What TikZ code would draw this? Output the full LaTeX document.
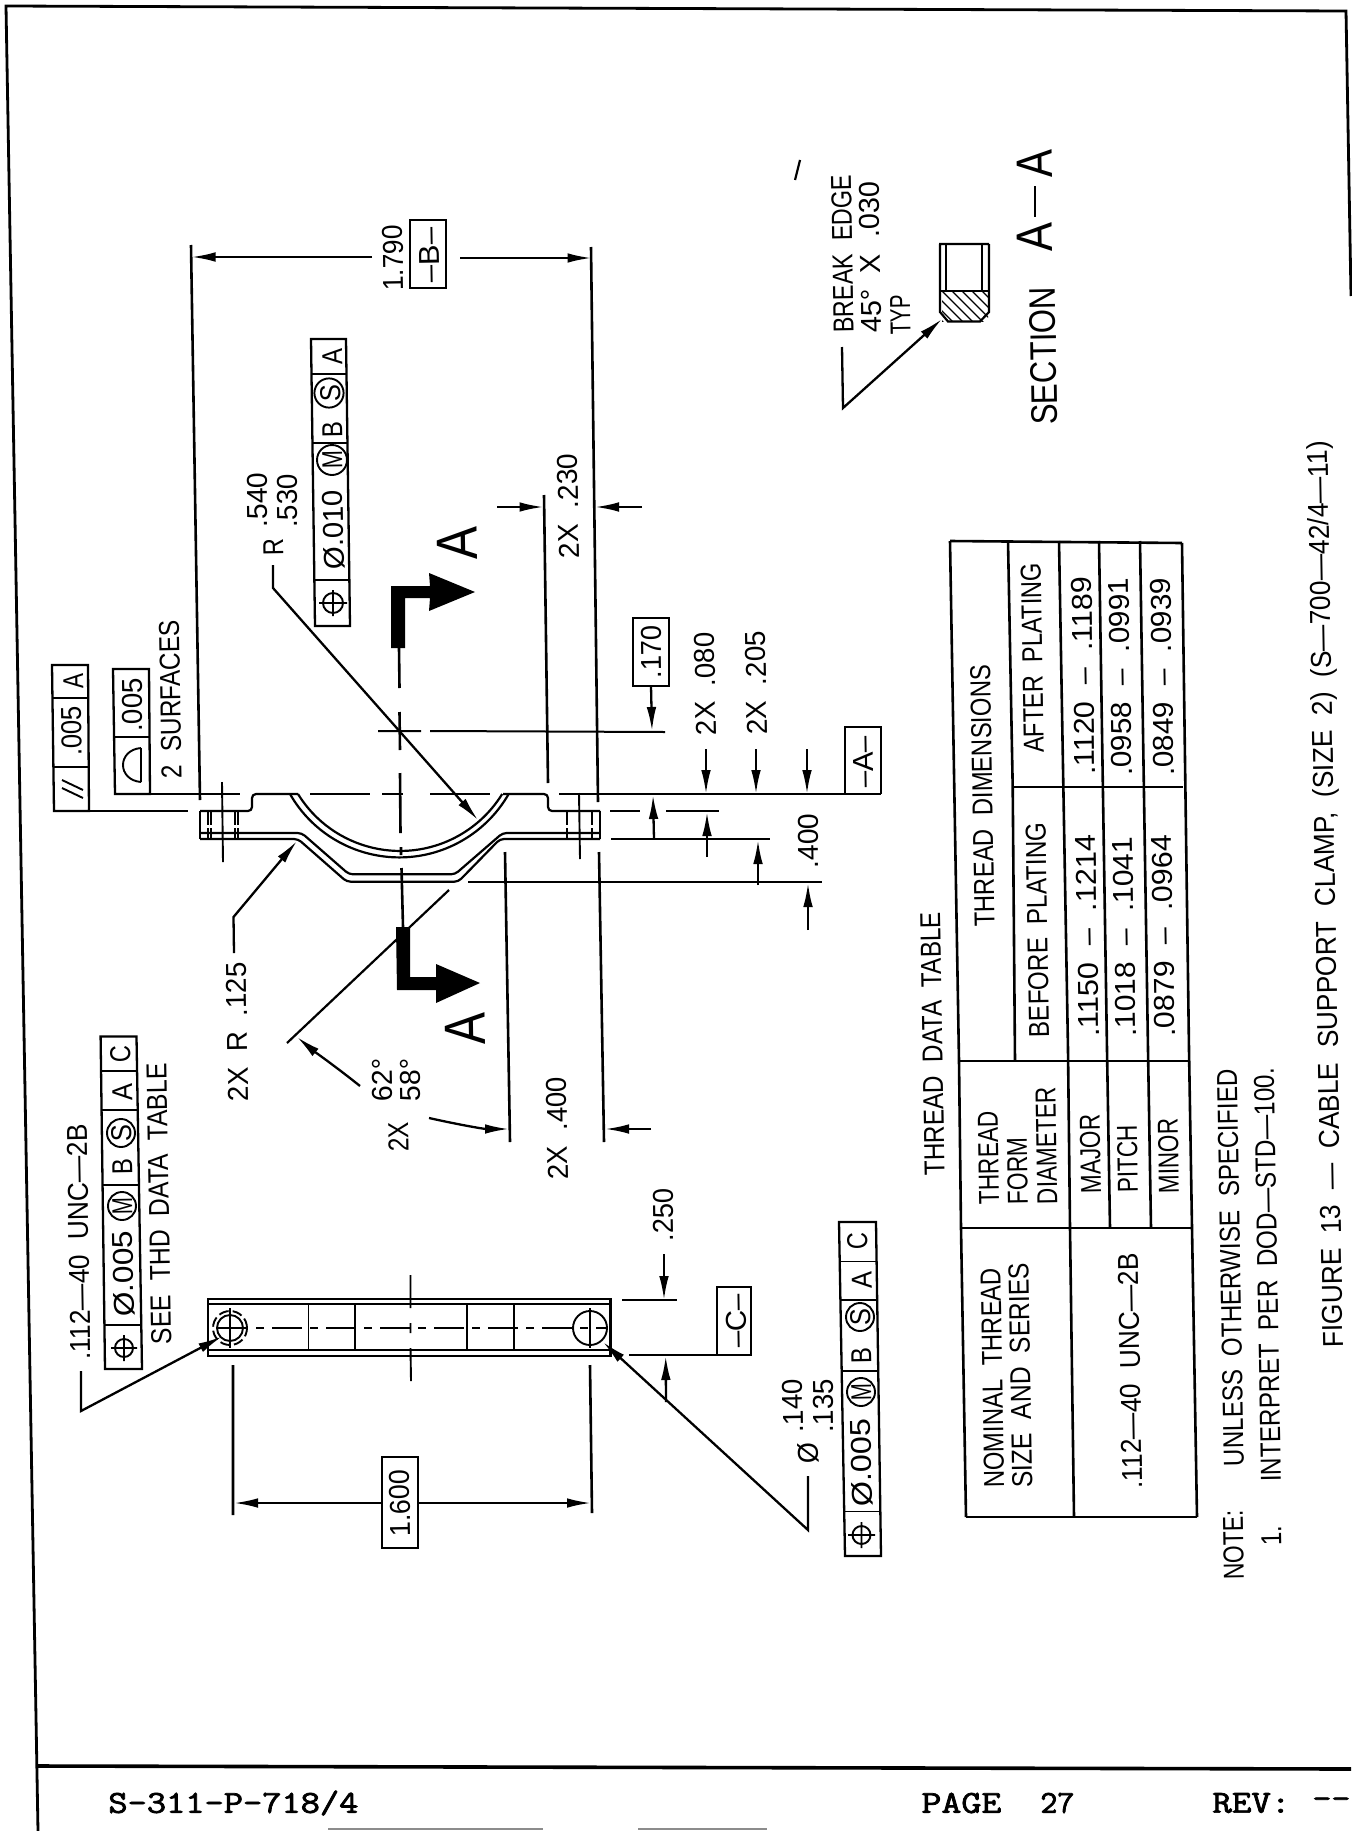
\documentclass[tikz,border=0pt]{standalone}
\usepackage{graphicx}
\usepackage{fontspec}
\usetikzlibrary{arrows.meta}
\setmainfont[WordSpace=2]{Liberation Sans}
\newfontfamily\footf[FakeBold=2.2]{Latin Modern Mono}
\newcounter{tc}
% text running bottom to top: size(pt), x, y, length(px), text
\newcommand{\T}[5][14.4]{\stepcounter{tc}\node[lab,text height=#1*0.716pt] (t\arabic{tc}) at (#2,#3) {\fontsize{#1pt}{#1pt}\selectfont\resizebox{\dimexpr #4pt/2\relax}{\height}{#5}};}
\tikzset{
  lab/.style={rotate=91,inner sep=0pt,anchor=center,text depth=0pt},
  ln/.style={line width=1.3pt,line join=miter},
  thin/.style={line width=0.95pt},
  box/.style={line width=1.15pt},
  prof/.style={line width=1.1pt,rounded corners=2pt},
  ar/.style={line width=1.15pt,-{Latex[length=12pt,width=4.8pt]}},
  foot/.style={inner sep=0pt,anchor=west,font=\footf\fontsize{16pt}{16pt}\selectfont},
}
\begin{document}
\begin{tikzpicture}[x=0.5pt,y=-0.5pt]
\useasboundingbox (0,0) rectangle (1351,1831);
% sheet frame
\draw[line width=1.4pt] (38,1831) -- (6,6) -- (1346,11) -- (1351,296);
\draw[line width=1.8pt] (37,1766) -- (1351,1769);
\draw[line width=0.8pt,black!45] (328,1829) -- (543,1829) (638,1829) -- (767,1829);
\node[foot] (f1) at (108,1803) {\resizebox{125pt}{\height}{S-311-P-718/4}};
\node[foot] (f2) at (921,1803) {\resizebox{40pt}{\height}{PAGE}};
\node[foot] (f2b) at (1040,1803) {\resizebox{17pt}{\height}{27}};
\node[foot] (f3) at (1212,1803) {\resizebox{39pt}{\height}{REV:}};
\node[foot] (f3b) at (1312,1803) {\resizebox{19pt}{\height}{--}};
% speck
\draw[line width=1.1pt] (795,180) -- (800,160);

% ---- clamp side view
\draw[prof] (200,811) -- (252,811) -- (252,794) -- (298,794);
\draw[prof] (503,794) -- (548,794) -- (548,811) -- (600,811);
\draw[ln,line width=1.1pt] (200,811) -- (200,839) (600,811) -- (600,839);
\draw[prof] (200,833) -- (301.7,833) -- (349,874.3) -- (455,874.3) -- (502.7,833) -- (600,833);
\draw[prof] (200,839) -- (298,839) -- (346.7,881.7) -- (458.3,881.7) -- (500,839) -- (600,839);
\draw[line width=1.1pt] (290,794) arc[start angle=209.8,end angle=330.2,radius=63pt];
\draw[line width=1.1pt] (298,794) arc[start angle=211.7,end angle=328.3,radius=60pt];
% hidden hole lines
\foreach \xx in {208,211,235,238,567,592}{\draw[thin,dash pattern=on 7pt off 1.5pt] (\xx,811) -- (\xx,839);}
\draw[thin] (222,782) -- (223,862) (579,793) -- (580,859);
% section lines / reference lines
\draw[ln] (115,794) -- (240,794) (310,794) -- (370,794) (382,794) -- (403,794) (430,794) -- (490,794) (559,794) -- (881,794);
\draw[ln] (88,811) -- (188,811) (610,811) -- (640,811) (666,811) -- (719,811);
\draw[ln] (611,839) -- (770,839);
\draw[ln] (468,882) -- (822,882);
\draw[thin,line width=1pt] (378,731) -- (421,731) (430,731) -- (665,732);
\draw[ln] (399,648) -- (399.5,688) (399.5,712) -- (400,750) (400,773) -- (400.5,833) (401,847) -- (401,855) (401.5,868) -- (403,927);
% extension lines
\draw[ln] (191,245) -- (200,800);
\draw[ln] (591,247) -- (598,802) (599,852) -- (604,1142);
\draw[ln] (544,495) -- (548,783);
\draw[ln] (505,852) -- (510,1142);
% section arrows
\fill (396,927) -- (410,927) -- (410,977) -- (436,977) -- (436,964) -- (480,983) -- (436,1003) -- (436,990) -- (397,990) -- cycle;
\fill (391,586) -- (430,586) -- (429,573) -- (475,592) -- (429,611) -- (430,598) -- (405,598) -- (405,648) -- (391,648) -- cycle;
\T[29]{464}{1029}{32}{A}
\T[29]{456}{543}{33}{A}
% dimensions
\draw[ar] (372,257) -- (191.5,257);
\draw[ar] (460,258) -- (591.5,258);
\T{393}{258}{66}{1.790}
\draw[box] (410,220) rectangle (446,288);
\T{429}{255}{55}{–B–}
\draw[ar] (497,507) -- (543.5,507);
\draw[ar] (642,507) -- (595,507);
\T{568}{506}{105}{2X .230}
\draw[box] (633,618) rectangle (669,686);
\T{651}{652}{53}{.170}
\draw[ar] (651,686) -- (652,731);
\T{705}{684}{103}{2X .080}
\T{756}{683}{104}{2X .205}
\draw[ar] (706,749) -- (706,794);
\draw[ar] (756,749) -- (756,794);
\draw[ar] (807,749) -- (807,794);
\draw[box] (845,794) -- (845,727) -- (881,727) -- (881,794);
\T{863}{762}{52}{–A–}
\draw[ar] (654,839) -- (653,795);
\draw[ar] (707,857) -- (707,812);
\draw[ar] (758,885) -- (758,840);
\draw[ar] (808,930) -- (808,883);
\T{808}{841}{55}{.400}
\T{557}{1128.5}{103}{2X .400}
\draw[ar] (429,1118) .. controls (465,1126) and (485,1129) .. (509,1129);
\draw[ar] (651,1129) -- (605,1129);
\T{382}{1080}{43}{62°}
\T{410}{1080}{43}{58°}
\T{398}{1137}{30}{2X}
\draw[ln,line width=1.1pt] (287,1043) -- (449,890);
\draw[ar] (360,1086) .. controls (335,1066) and (315,1052) .. (297,1037);
\T{237}{1032}{139}{2X R .125}
\draw[ar] (234,953) -- (233.5,917) -- (297,841);
\T{257}{500}{55}{.540}
\T{287}{501}{54}{.530}
\T{273}{547}{17}{R}
\draw[ar] (273,565) -- (273,588) -- (478,820);

% ---- frame, centre (Ø .010 M B S A)
\draw[box] (311,339) -- (346,339) -- (350,626) -- (315,626) -- cycle;
\draw[thin] (311.6,374) -- (346.5,374) (312.6,443) -- (347.6,443) (314.3,580) -- (349.4,580);
\T{332}{357}{16}{A}
\draw[thin] (329,393) circle[radius=7.3pt];
\T{330}{393}{17}{S}
\T{332}{430}{16}{B}
\draw[thin] (332,460) circle[radius=7.5pt];
\T{332}{460}{18}{M}
\T{333}{530}{80}{Ø.010}
\draw[thin] (333,603) circle[radius=5pt] (319,603) -- (347,603) (333,590) -- (333,616);

% ---- top left frames
\draw[box] (52,665) -- (88,665) -- (89,811) -- (54,811) -- cycle;
\draw[thin] (52.5,698) -- (88,698) (53.5,767) -- (88.6,767);
\T{73}{681}{15}{A}
\T{71}{731}{50}{.005}
\draw[thin] (62,788) -- (83,798) (62,780) -- (83,790);
\draw[box] (113,669) -- (149,669) -- (150,794) -- (115,794) -- cycle;
\draw[thin] (114,737) -- (149.5,737);
\T{132}{705}{54}{.005}
\draw[thin] (141,748) -- (141,782) (141,748) .. controls (117,750) and (117,780) .. (141,782);
\T{170}{699.5}{159}{2 SURFACES}

% ---- end view
\draw[line width=1.15pt] (208,1299) rectangle (610.5,1356);
\draw[thin] (208,1304) -- (610.5,1304) (208,1350) -- (610.5,1350);
\draw[thin] (308.5,1304) -- (308.5,1350) (355,1304) -- (355,1350) (467,1304) -- (467,1350) (514,1304) -- (514,1350);
\draw[ln,dash pattern=on 15pt off 4pt on 4pt off 4pt] (218,1328) -- (608,1328);
\draw[thin] (410.5,1275) -- (410.5,1308) (410.5,1323) -- (410.5,1333) (410.5,1348) -- (411,1381);
\draw[thin] (230,1328) circle[radius=6.5pt];
\draw[thin,dash pattern=on 5pt off 2pt] (230,1328) circle[radius=8.5pt];
\draw[thin] (230,1308) -- (230,1348);
\draw[thin] (590,1328) circle[radius=8.5pt];
\draw[thin] (590,1308) -- (590,1348);
\draw[ln] (233,1365) -- (233,1515) (590,1365) -- (592,1513);
\draw[box] (382,1457) rectangle (418,1548);
\T{399.5}{1503}{67}{1.600}
\draw[ar] (382,1503) -- (234,1503);
\draw[ar] (418,1503) -- (591,1503);
\T{663}{1215}{53}{.250}
\draw[ar] (664,1254) -- (664,1300);
\draw[ln] (622,1300) -- (677,1300);
\draw[ln] (629,1355) -- (717,1355);
\draw[box] (717,1355) -- (717,1287) -- (751,1287) -- (751,1355) -- (717,1355);
\T{736}{1321}{54}{–C–}
\draw[ar] (666,1402) -- (665.7,1356);

% ---- frame, upper left view
\T{78.6}{1242}{235}{.112—40 UNC—2B}
\T{158.5}{1204}{281}{SEE THD DATA TABLE}
\draw[box] (100.6,1036.5) -- (136.5,1036.5) -- (142,1369) -- (105,1369) -- cycle;
\draw[thin] (101.2,1071) -- (137.2,1071) (101.8,1110) -- (137.8,1110) (103,1185) -- (139,1185) (104.4,1325) -- (141,1325);
\T{120}{1054}{17}{C}
\T{122}{1092}{17}{A}
\draw[thin] (121,1133) circle[radius=7pt];
\T{121}{1133}{17}{S}
\T{122}{1167}{16}{B}
\draw[thin] (122,1206) circle[radius=7pt];
\T{122}{1206}{17}{M}
\T{123}{1274}{86}{Ø.005}
\draw[thin] (124,1348) circle[radius=4.5pt] (111,1348) -- (137,1348) (124,1335) -- (124,1361);
\draw[ar] (81,1371) -- (81,1411) -- (222,1336.5);

% ---- frame, lower left view
\T{792.5}{1406}{54}{.140}
\T{823}{1406}{54}{.135}
\T{808}{1453}{21}{Ø}
\draw[ar] (808,1476) -- (808,1530) -- (603,1342);
\draw[box] (839,1222) -- (876,1222) -- (881,1556) -- (845,1556) -- cycle;
\draw[thin] (840,1261.5) -- (877,1261.5) (840.8,1300) -- (877.6,1300) (841.8,1371) -- (878.6,1371) (844,1511.5) -- (880.2,1511.5);
\T{857}{1241}{17}{C}
\T{861.5}{1280}{17}{A}
\draw[thin] (860,1317) circle[radius=7pt];
\T{860}{1317}{17}{S}
\T{861}{1356}{16}{B}
\draw[thin] (861,1392) circle[radius=7pt];
\T{861}{1392}{17}{M}
\T{861}{1463}{88}{Ø.005}
\draw[thin] (861.5,1535) circle[radius=4.5pt] (848,1535) -- (875,1535) (861.5,1522) -- (861.5,1548);

% ---- section A-A
\T{842}{254}{158}{BREAK EDGE}
\T{870}{257.5}{151}{45° X .030}
\T{900}{315}{40}{TYP}
\draw[ar] (842,347) -- (843,408) -- (942,319);
\begin{scope}
\clip (942,291) rectangle (988,321);
\foreach \d in {-40,-30,...,60}{\draw[line width=0.6pt] (940+\d,289) -- (975+\d,324);}
\end{scope}
\draw[line width=1.1pt] (939,244) -- (989,244) (940,244) -- (940,312) -- (948,321.5) -- (980,321.5) -- (989,312) -- (989,244);
\draw[thin] (946,244) -- (946,291) (982,244) -- (982,291) (941,291) -- (989,291);
\T[18.5]{1043}{356}{138}{SECTION}
\T[25.5]{1034}{237}{29}{A}
\T[25.5]{1034}{164}{28}{A}
\draw[line width=1.2pt] (1035,186) -- (1035,217);

% ---- table
\draw[ln] (950,541) -- (1182,543);
\draw[ln] (950,541) -- (959,1061) -- (961,1228) -- (966,1517);
\draw[ln] (1008,541) -- (1012.7,787) -- (1015,1061);
\draw[ln] (1059,541) -- (1068,1050) -- (1070,1228) -- (1074,1517);
\draw[ln] (1099,541) -- (1107,1050) -- (1110,1228);
\draw[ln] (1140,541) -- (1148,1050) -- (1151,1228);
\draw[ln] (1182,543) -- (1189,1050) -- (1192,1228) -- (1197,1517);
\draw[ln] (1012.7,787) -- (1183,787);
\draw[ln] (959,1061) -- (1189,1061);
\draw[ln] (961,1228) -- (1192,1228);
\draw[ln] (966,1517) -- (1197,1517);
\T{982}{796}{262}{THREAD DIMENSIONS}
\T{1037}{930}{215}{BEFORE PLATING}
\T{1032}{658}{190}{AFTER PLATING}
\T{1083}{676}{198}{.1120 – .1189}
\T{1120}{677}{198}{.0958 – .0991}
\T{1162}{677}{198}{.0849 – .0939}
\T{1087}{936}{202}{.1150 – .1214}
\T{1124}{937}{200}{.1018 – .1041}
\T{1163}{936}{202}{.0879 – .0964}
\T{932}{1044}{264}{THREAD DATA TABLE}
\T{988}{1158}{93}{THREAD}
\T{1017}{1171}{67}{FORM}
\T{1046}{1146}{117}{DIAMETER}
\T{1090}{1154}{79}{MAJOR}
\T{1127}{1159}{68}{PITCH}
\T{1168}{1156}{75}{MINOR}
\T{992}{1378}{220}{NOMINAL THREAD}
\T{1020}{1375.5}{225}{SIZE AND SERIES}
\T{1130}{1371}{235}{.112—40 UNC—2B}
% notes
\T{1233}{1545}{70}{NOTE:}
\T{1230}{1268}{397}{UNLESS OTHERWISE SPECIFIED}
\T{1271}{1536}{20}{1.}
\T{1267}{1275}{414}{INTERPRET PER DOD—STD—100.}
\T{1325}{894.5}{907}{FIGURE 13 — CABLE SUPPORT CLAMP, (SIZE 2) (S—700—42/4—11)}
\end{tikzpicture}
\end{document}
